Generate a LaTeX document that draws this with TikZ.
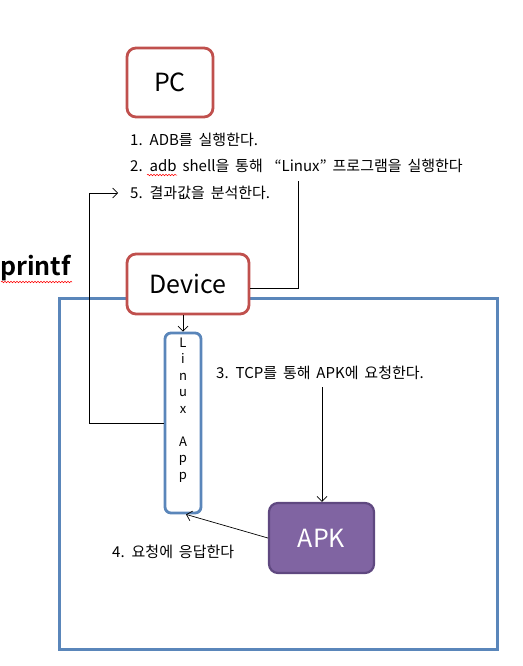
\documentclass[tikz,border=0pt]{standalone}
\usepackage{fontspec}
\setmainfont{Noto Sans CJK KR}[BoldFont={Noto Sans CJK KR Bold}]
\newfontfamily\notefont{Noto Sans CJK KR}[WordSpace=1.75]
\usetikzlibrary{arrows, arrows.meta, calc, positioning, decorations.pathmorphing}
\definecolor{pcred}{HTML}{C0504D}
\definecolor{envblue}{HTML}{5A86BA}
\definecolor{apkfill}{HTML}{8064A2}
\definecolor{apkline}{HTML}{5F4880}

\begin{document}
\begin{tikzpicture}[x=1pt, y=-1pt,
        box/.style={draw=pcred, fill=white, line width=2.8pt, rounded corners=9pt, font=\fontsize{25}{28}\selectfont},
        note/.style={anchor=west, inner sep=0pt, font=\notefont\fontsize{15}{17}\selectfont},
        link/.style={line width=0.7pt, -{Straight Barb[length=5pt, width=10pt]}},
        wavy/.style={draw=red, line width=0.5pt, decorate, decoration={snake, amplitude=0.8pt, segment length=3pt}}]
        \useasboundingbox (0,0) rectangle (522,666);

        % environment of the device
        \draw[envblue, line width=3pt] (59,298) rectangle (497,649);

        \node[box, minimum width=86pt, minimum height=69pt] (pc) at (170,82.5) {PC};
        \node[box, minimum width=122pt, minimum height=60pt] (device) at (188,284) {Device};
        \node[draw=envblue, line width=2.8pt, rounded corners=6pt, minimum width=36pt, minimum height=180pt] (linux) at (183,423) {};
        \node[below=6pt of linux.north, align=center, inner sep=0pt, font=\fontsize{13}{16.5}\selectfont] (linuxtxt) {L\\i\\n\\u\\x\\[16.5pt]A\\p\\p};
        \node[draw=apkline, fill=apkfill, text=white, line width=2.2pt, rounded corners=9pt, minimum width=105pt, minimum height=70pt, font=\fontsize{25}{28}\selectfont] (apk) at (321.5,538) {APK};

        \node[note] (note1) at (130,140) {1. ADB를 실행한다.};
        \node[note] (note2) at (130,166) {2. adb shell을 통해 \ “Linux” 프로그램을 실행한다};
        \node[note] (note5) at (130,193) {5. 결과값을 분석한다.};
        \node[note] (note3) at (216,373) {3. TCP를 통해 APK에 요청한다.};
        \node[note] (note4) at (112,552) {4. 요청에 응답한다};
        \node[anchor=west, inner sep=0pt, font=\fontsize{25}{28}\bfseries] (printf) at (0,268) {printf};

        \coordinate (runtop) at (298,181);
        \coordinate (tcptop) at (322,387);

        \draw[link, -] ([yshift=-4pt]device.east) -| (runtop);
        \draw[link] (linux.west) -- ++(-74,0) |- ([xshift=-12pt]note5.west);
        \draw[link] (device.south -| linux.north) -- (linux.north);
        \draw[link] (tcptop) -- (tcptop |- apk.north);
        \draw[link] (apk.west) -- ([xshift=3pt]linux.south);

        % spelling marks
        \draw[wavy] (1,282) -- (72,282);
        \draw[wavy] (147,175) -- (177,175);
    \end{tikzpicture}
\end{document}
